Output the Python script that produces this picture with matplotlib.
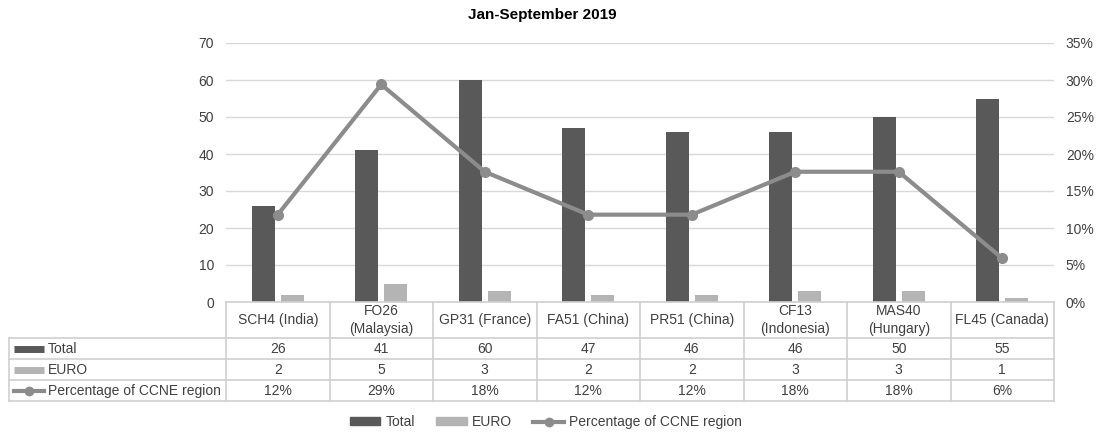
import matplotlib.pyplot as plt
import numpy as np
from matplotlib.lines import Line2D
from matplotlib.patches import Patch

plt.rcParams["font.family"] = ["Liberation Sans", "DejaVu Sans"]

categories = ["SCH4 (India)", "FO26\n(Malaysia)", "GP31 (France)", "FA51 (China)",
              "PR51 (China)", "CF13\n(Indonesia)", "MAS40\n(Hungary)", "FL45 (Canada)"]
total = [26, 41, 60, 47, 46, 46, 50, 55]
euro = [2, 5, 3, 2, 2, 3, 3, 1]
pct = [11.8, 29.4, 17.6, 11.8, 11.8, 17.6, 17.6, 5.9]
pct_labels = ["12%", "29%", "18%", "12%", "12%", "18%", "18%", "6%"]

c_total = "#595959"
c_euro = "#b4b4b4"
c_line = "#8c8c8c"
c_grid = "#d9d9d9"
c_text = "#404040"

W, H = 1098, 437
fig = plt.figure(figsize=(W / 100, H / 100), dpi=100)

x0, x1, y_top, y_bot = 226, 1054, 43, 302
ax = fig.add_axes([x0 / W, 1 - y_bot / H, (x1 - x0) / W, (y_bot - y_top) / H])
x = np.arange(len(categories))
ax.bar(x - 0.14, total, width=0.222, color=c_total, zorder=2)
ax.bar(x + 0.14, euro, width=0.222, color=c_euro, zorder=2)
ax.set_xlim(-0.5, len(categories) - 0.5)
ax.set_ylim(0, 70)
ax.set_yticks(range(0, 71, 10))
ax.grid(axis="y", color=c_grid, linewidth=1, zorder=0)
ax.set_xticks([])
for s in ["top", "left", "right", "bottom"]:
    ax.spines[s].set_visible(False)
ax.tick_params(axis="y", length=0, pad=8.5, labelsize=10, labelcolor=c_text)
fig.text(542 / W, 1 - 15 / H, "Jan-September 2019", ha="center", va="center",
         fontsize=11, fontweight="bold", color="black")

ax2 = ax.twinx()
ax2.plot(x, pct, color=c_line, linewidth=3, marker="o", markersize=7, zorder=3)
ax2.set_ylim(0, 35)
ax2.set_yticks(range(0, 36, 5))
ax2.set_yticklabels([f"{v}%" for v in range(0, 36, 5)])
for s in ["top", "left", "right", "bottom"]:
    ax2.spines[s].set_visible(False)
ax2.tick_params(axis="y", length=0, pad=8.5, labelsize=10, labelcolor=c_text)

# data table below the plot
tx0, ty1 = 9, 401
cat_w = (x1 - x0) / len(categories)
tab = fig.add_axes([tx0 / W, 1 - ty1 / H, (x1 - tx0) / W, (ty1 - y_bot) / H])
tab.set_xlim(-0.5 - (x0 - tx0) / cat_w, len(categories) - 0.5)
tab.set_ylim(ty1 - y_bot, 0)
tab.axis("off")
left = -0.5 - (x0 - tx0) / cat_w
rows = [36, 57, 78, 99]
lc = "#d0d0d0"
tab.plot([-0.5, len(categories) - 0.5], [0, 0], color=lc, lw=1.2, clip_on=False)
for r in rows:
    tab.plot([left, len(categories) - 0.5], [r, r], color=lc, lw=1.2, clip_on=False)
tab.plot([left, left], [36, 99], color=lc, lw=1.2, clip_on=False)
for i in range(len(categories) + 1):
    tab.plot([i - 0.5, i - 0.5], [0, 99], color=lc, lw=1.2, clip_on=False)

fs = 10
for i, cat in enumerate(categories):
    tab.text(i, 18, cat, ha="center", va="center", fontsize=fs, color=c_text, linespacing=1.3)
    tab.text(i, 47, str(total[i]), ha="center", va="center", fontsize=fs, color=c_text)
    tab.text(i, 68, str(euro[i]), ha="center", va="center", fontsize=fs, color=c_text)
    tab.text(i, 89, pct_labels[i], ha="center", va="center", fontsize=fs, color=c_text)

px = 1 / cat_w
sx = left + 5 * px
tab.plot([sx, sx + 30 * px], [47, 47], color=c_total, lw=5, solid_capstyle="butt")
tab.plot([sx, sx + 30 * px], [68, 68], color=c_euro, lw=5, solid_capstyle="butt")
tab.plot([sx, sx + 30 * px], [89, 89], color=c_line, lw=3)
tab.plot([sx + 15 * px], [89], color=c_line, marker="o", markersize=6)
row_names = ["Total", "EURO", "Percentage of CCNE region"]
for r, name in zip([47, 68, 89], row_names):
    tab.text(sx + 34 * px, r, name, ha="left", va="center", fontsize=fs, color=c_text)

handles = [Patch(color=c_total), Patch(color=c_euro),
           Line2D([], [], color=c_line, lw=3, marker="o", markersize=6)]
fig.legend(handles, row_names, loc="center", bbox_to_anchor=(546 / W, 1 - 422 / H),
           ncol=3, frameon=False, fontsize=fs, handlelength=2.2, handleheight=0.5,
           columnspacing=1.5, handletextpad=0.4, labelcolor=c_text)

fig.savefig("out.png", dpi=100, facecolor="white")
